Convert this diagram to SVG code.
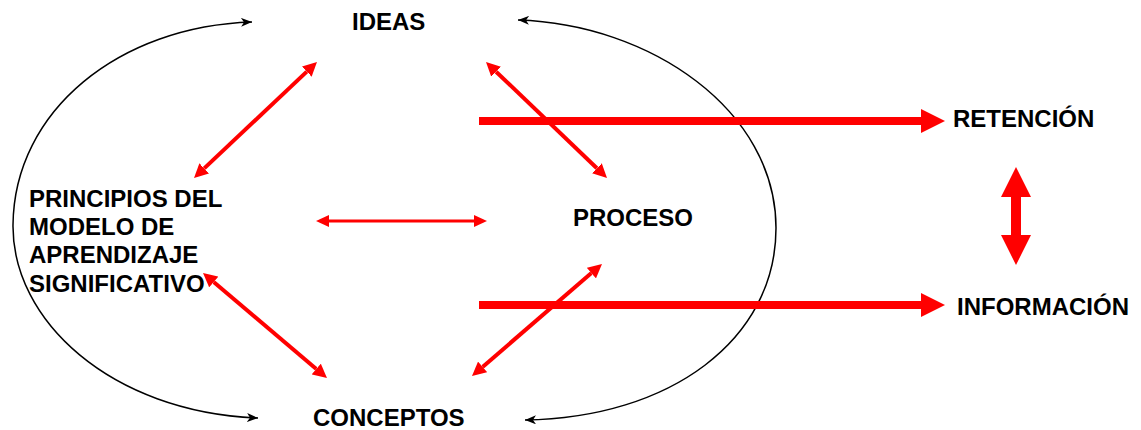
<svg xmlns="http://www.w3.org/2000/svg" width="1141" height="430" viewBox="0 0 1141 430">
  <style>
    .lbl { font-family: "Liberation Sans", Arial, sans-serif; font-weight: bold; font-size: 24px; fill: #000; }
    .cycle { fill: none; stroke: #000; stroke-width: 1.5; }
    .rel { stroke: #ff0000; stroke-width: 4; fill: none; }
    .rel-thin { stroke: #ff0000; stroke-width: 3; fill: none; }
    .flow { stroke: #ff0000; stroke-width: 8; fill: none; }
  </style>
  <defs>
    <marker id="head-black" markerUnits="userSpaceOnUse" markerWidth="11" markerHeight="9" viewBox="0 0 11 9" refX="11" refY="4.5" orient="auto-start-reverse">
      <path d="M0,0 L11,4.5 L0,9 L3,4.5 z" fill="#000"/>
    </marker>
    <marker id="head-red" markerUnits="userSpaceOnUse" markerWidth="14" markerHeight="14" viewBox="0 0 14 14" refX="0" refY="7" orient="auto-start-reverse">
      <path d="M0,0 L14,7 L0,14 z" fill="#ff0000"/>
    </marker>
    <marker id="head-red-sm" markerUnits="userSpaceOnUse" markerWidth="13" markerHeight="12" viewBox="0 0 13 12" refX="0" refY="6" orient="auto-start-reverse">
      <path d="M0,0 L13,6 L0,12 z" fill="#ff0000"/>
    </marker>
    <marker id="head-flow" markerUnits="userSpaceOnUse" markerWidth="24" markerHeight="24" viewBox="0 0 24 24" refX="0" refY="12" orient="auto">
      <path d="M0,0 L24,12 L0,24 z" fill="#ff0000"/>
    </marker>
  </defs>

  <g id="connectors">
    <!-- cycle arcs -->
    <path class="cycle" d="M252,22 C120,26 14,110 13,225 C12,320 110,412 258,418" marker-start="url(#head-black)" marker-end="url(#head-black)"/>
    <path class="cycle" d="M518,20 C650,24 776,110 776,228 C776,340 670,418 525,420" marker-start="url(#head-black)" marker-end="url(#head-black)"/>

    <!-- two-way relations -->
    <line class="rel" x1="204.2" y1="168.4" x2="306.8" y2="71.6" marker-start="url(#head-red)" marker-end="url(#head-red)"/>
    <line class="rel" x1="496.1" y1="71.7" x2="596.9" y2="168.3" marker-start="url(#head-red)" marker-end="url(#head-red)"/>
    <line class="rel" x1="213.7" y1="282" x2="316.3" y2="369" marker-start="url(#head-red)" marker-end="url(#head-red)"/>
    <line class="rel" x1="591.4" y1="273.1" x2="482.6" y2="366.9" marker-start="url(#head-red)" marker-end="url(#head-red)"/>
    <line class="rel-thin" x1="329" y1="221" x2="474" y2="221" marker-start="url(#head-red-sm)" marker-end="url(#head-red-sm)"/>

    <!-- outgoing flows -->
    <line class="flow" x1="479" y1="121" x2="921" y2="121" marker-end="url(#head-flow)"/>
    <line class="flow" x1="479" y1="305" x2="921" y2="305" marker-end="url(#head-flow)"/>

    <!-- block double arrow -->
    <polygon fill="#ff0000" points="1016,167 1031,197 1021,197 1021,235 1031,235 1016,265 1001,235 1011,235 1011,197 1001,197"/>
  </g>

  <g id="ideas"><text class="lbl" x="352" y="30">IDEAS</text></g>
  <g id="conceptos"><text class="lbl" x="313" y="426">CONCEPTOS</text></g>
  <g id="proceso"><text class="lbl" x="573" y="226">PROCESO</text></g>
  <g id="retencion"><text class="lbl" x="953" y="127">RETENCIÓN</text></g>
  <g id="informacion"><text class="lbl" x="957" y="315">INFORMACIÓN</text></g>
  <g id="principios">
    <text class="lbl" x="29" y="207">PRINCIPIOS DEL</text>
    <text class="lbl" x="29" y="235">MODELO DE</text>
    <text class="lbl" x="29" y="263">APRENDIZAJE</text>
    <text class="lbl" x="29" y="292">SIGNIFICATIVO</text>
  </g>
</svg>
